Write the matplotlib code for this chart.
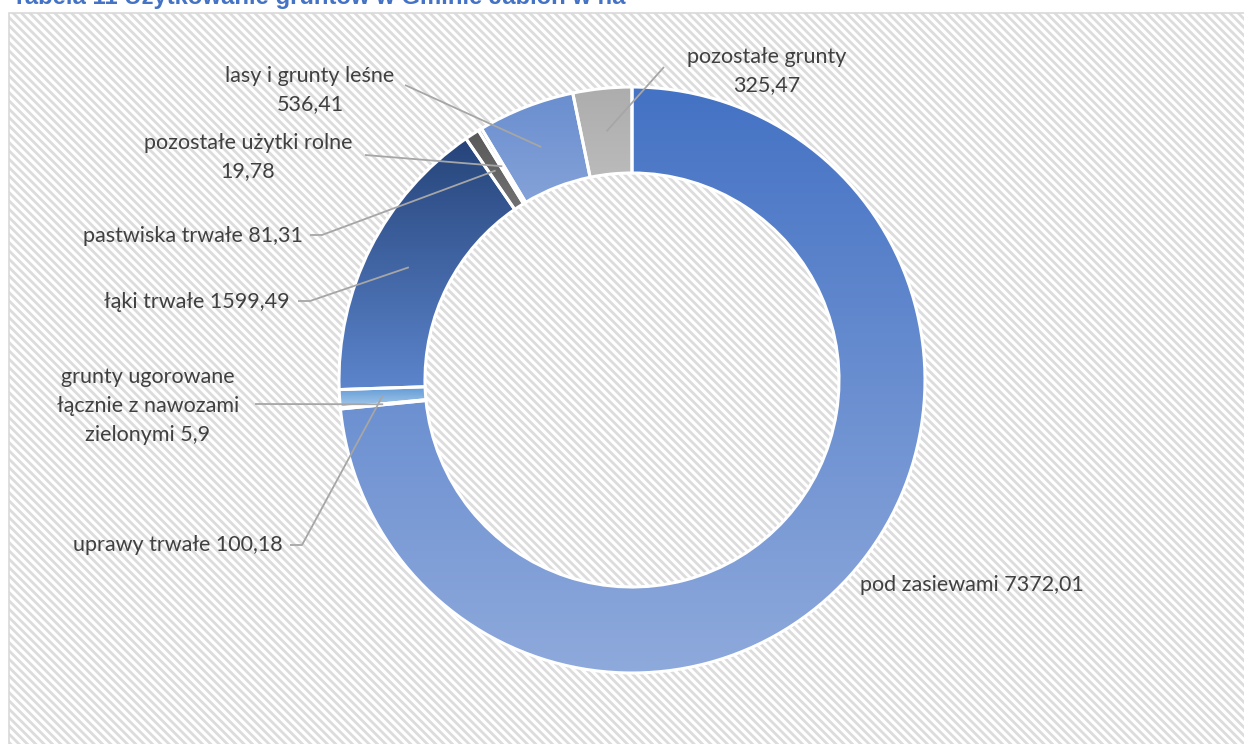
import numpy as np
import matplotlib
matplotlib.use('Agg')
import matplotlib.pyplot as plt
from matplotlib.patches import Rectangle
from matplotlib.colors import LinearSegmentedColormap

plt.rcParams['hatch.color'] = '#DCDCDC'
plt.rcParams['hatch.linewidth'] = 2.0

# data (ha), clockwise from 12 o'clock
names = ['pod zasiewami', 'grunty ugorowane\nłącznie z nawozami\nzielonymi',
         'uprawy trwałe', 'łąki trwałe', 'pastwiska trwałe',
         'pozostałe użytki rolne', 'lasy i grunty leśne', 'pozostałe grunty']
values = [7372.01, 5.9, 100.18, 1599.49, 81.31, 19.78, 536.41, 325.47]
seps = [' ', ' ', ' ', ' ', ' ', '\n', '\n', '\n']
title = 'Tabela 11 Użytkowanie gruntów w Gminie Jabłoń w ha'

# gradient fills (top -> bottom)
grads = [('#4472C4', '#8FAADC'), ('#5B9BD5', '#9DC3E6'), ('#4A8AD0', '#A9CBEA'),
         ('#26447A', '#5C85CC'), ('#595959', '#A6A6A6'), ('#7F7F7F', '#BFBFBF'),
         ('#6A8ECF', '#AFC3E8'), ('#ADADAD', '#D9D9D9')]

W, H = 1244, 744
CX, CY, R, RW = 632, H - 380, 293, 86

# label layout in pixel coords (x, y from top), alignment, leader start + stub
lab_pos = [(860, 585, 'left'), (148, 406, 'center'), (283, 545, 'right'),
           (290, 302, 'right'), (303, 236, 'right'), (248, 157, 'center'),
           (310, 90, 'center'), (767, 71, 'center')]
lead = [None, ((255, 404), None), ((290, 545), (302, 545)),
        ((298, 301), (310, 301)), ((310, 235), (322, 235)),
        ((365, 155), None), ((405, 85), None), ((664, 67), None)]

fig = plt.figure(figsize=(W / 100, H / 100), dpi=100)
ax = fig.add_axes([0, 0, 1, 1])
ax.axis('off')

# hatched chart area
ax.add_patch(Rectangle((8.5, -10), W + 20, H - 12.5 + 10, facecolor='white',
                       edgecolor='#DCDCDC', hatch='\\\\\\\\', linewidth=0, zorder=0))
ax.add_patch(Rectangle((8.5, -10), W + 20, H - 12.5 + 10, facecolor='none',
                       edgecolor='#D9D9D9', linewidth=1.2, zorder=1))

wedges, _ = ax.pie(values, center=(CX, CY), radius=R, startangle=90, counterclock=False,
                   wedgeprops=dict(width=RW, edgecolor='white', linewidth=2.2))

grad = np.linspace(0, 1, 256).reshape(-1, 1)
for w, (c0, c1) in zip(wedges, grads):
    v = w.get_path().vertices
    x0, x1 = v[:, 0].min(), v[:, 0].max()
    y0, y1 = v[:, 1].min(), v[:, 1].max()
    cmap = LinearSegmentedColormap.from_list('g', [c0, c1])
    im = ax.imshow(grad, cmap=cmap, extent=(x0, x1, y0, y1), origin='upper',
                   aspect='auto', zorder=2, interpolation='bilinear')
    im.set_clip_path(w)
    w.set_facecolor('none')
    w.set_zorder(3)

txt_kw = dict(fontsize=15.5, color='#404040', family=['Lato', 'DejaVu Sans'],
              va='center', linespacing=1.55, zorder=5)
for w, name, val, sep, (lx, ly, ha), ld in zip(wedges, names, values, seps, lab_pos, lead):
    s = f'{val:g}'.replace('.', ',')
    ax.text(lx, H - ly, name + sep + s, ha=ha, multialignment='center', **txt_kw)
    if ld is None:
        continue
    mid = np.deg2rad((w.theta1 + w.theta2) / 2)
    rm = R - RW / 2
    ex, ey = CX + rm * np.cos(mid), CY + rm * np.sin(mid)
    pts = [ld[0]] + ([ld[1]] if ld[1] else [])
    xs = [p[0] for p in pts] + [ex]
    ys = [H - p[1] for p in pts] + [ey]
    ax.plot(xs, ys, color='#A6A6A6', lw=1.3, zorder=4, solid_capstyle='butt')

ax.text(12, H - 4, title, fontsize=17.2, fontweight='bold', color='#4472C4',
        family='Liberation Sans', va='baseline', ha='left', clip_on=False)

ax.set_xlim(0, W)
ax.set_ylim(0, H)
fig.savefig('out.png', dpi=100)
